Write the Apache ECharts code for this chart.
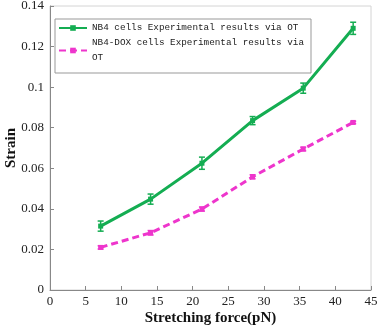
<!DOCTYPE html>
<html>
<head>
<meta charset="utf-8">
<script src="https://cdn.jsdelivr.net/npm/echarts@6/dist/echarts.min.js"></script>
<style>
  html, body { margin: 0; padding: 0; background: #fff; }
  #main { width: 378px; height: 327px; }
</style>
</head>
<body>
<div id="main"></div>
<script>
// stretching force (pN)
var forces = [7.1, 14.1, 21.3, 28.4, 35.5, 42.5];
// strain values
var nb4Strain = [0.0315, 0.0448, 0.0625, 0.0835, 0.0995, 0.129];
var nb4Err = [0.0025, 0.0025, 0.003, 0.002, 0.0025, 0.003];
var doxStrain = [0.021, 0.0282, 0.0399, 0.0558, 0.0695, 0.0826];
var doxErr = [0.0008, 0.0011, 0.001, 0.001, 0.0009, 0.0006];

var nb4Name = 'NB4 cells Experimental results via OT';
var doxName = 'NB4-DOX cells Experimental results via OT';
var green = '#14ad52';
var pink = '#ee35cc';

function pairs(xs, ys) {
    return xs.map(function (x, i) { return [x, ys[i]]; });
}
function triples(xs, ys, es) {
    return xs.map(function (x, i) { return [x, ys[i], es[i]]; });
}

function errorBar(color) {
    return function (params, api) {
        var x = api.value(0), y = api.value(1), e = api.value(2);
        var hi = api.coord([x, y + e]);
        var lo = api.coord([x, y - e]);
        var w = 3;
        var st = { stroke: color, lineWidth: 1.5 };
        return {
            type: 'group',
            children: [
                { type: 'line', shape: { x1: hi[0], y1: hi[1], x2: lo[0], y2: lo[1] }, style: st },
                { type: 'line', shape: { x1: hi[0] - w, y1: hi[1], x2: hi[0] + w, y2: hi[1] }, style: st },
                { type: 'line', shape: { x1: lo[0] - w, y1: lo[1], x2: lo[0] + w, y2: lo[1] }, style: st }
            ]
        };
    };
}

var chart = echarts.init(document.getElementById('main'));
chart.setOption({
    animation: false,
    backgroundColor: '#fff',
    grid: {
        left: 50, right: 7, top: 6, bottom: 37,
        outerBoundsMode: 'none',
        containLabel: false,
        show: true, borderColor: '#d4d4d4', borderWidth: 1
    },
    legend: {
        orient: 'vertical',
        left: 55, top: 19,
        padding: [1, 1, 0, 3],
        itemGap: -8,
        itemWidth: 28,
        itemHeight: 7,
        borderColor: '#999',
        borderWidth: 1,
        backgroundColor: '#fff',
        textStyle: { fontFamily: 'Liberation Mono', fontSize: 9.3, color: '#222', lineHeight: 16 },
        data: [
            { name: nb4Name },
            { name: doxName, textStyle: { width: 218, overflow: 'break', lineHeight: 15, padding: [15, 0, 0, 0] } }
        ]
    },
    xAxis: {
        type: 'value',
        min: 0, max: 45, interval: 5,
        name: 'Stretching force(pN)',
        nameLocation: 'middle',
        nameGap: 21,
        nameMoveOverlap: false,
        nameTextStyle: { fontFamily: 'Liberation Serif', fontWeight: 'bold', fontSize: 15, color: '#111' },
        axisLine: { lineStyle: { color: '#888' } },
        axisTick: { inside: true, length: 4, lineStyle: { color: '#888' } },
        axisLabel: { fontFamily: 'Liberation Serif', fontSize: 13, color: '#222', margin: 5 },
        splitLine: { show: false }
    },
    yAxis: {
        type: 'value',
        min: 0, max: 0.14, interval: 0.02,
        name: 'Strain',
        nameLocation: 'middle',
        nameRotate: 90,
        nameGap: 31,
        nameMoveOverlap: false,
        nameTextStyle: { fontFamily: 'Liberation Serif', fontWeight: 'bold', fontSize: 15, color: '#111' },
        axisLine: { show: true, lineStyle: { color: '#888' } },
        axisTick: { show: true, inside: true, length: 4, lineStyle: { color: '#888' } },
        axisLabel: { fontFamily: 'Liberation Serif', fontSize: 13, color: '#222', margin: 6 },
        splitLine: { show: false }
    },
    series: [
        {
            name: nb4Name,
            type: 'line',
            data: pairs(forces, nb4Strain),
            symbol: 'rect',
            symbolSize: 5,
            color: green,
            lineStyle: { width: 3, color: green },
            itemStyle: { color: green }
        },
        {
            name: doxName,
            type: 'line',
            data: pairs(forces, doxStrain),
            symbol: 'rect',
            symbolSize: 5,
            color: pink,
            lineStyle: { width: 3, color: pink, type: [7, 4] },
            itemStyle: { color: pink }
        },
        {
            name: 'nb4-err',
            type: 'custom',
            data: triples(forces, nb4Strain, nb4Err),
            renderItem: errorBar(green),
            z: 3
        },
        {
            name: 'dox-err',
            type: 'custom',
            data: triples(forces, doxStrain, doxErr),
            renderItem: errorBar(pink),
            z: 3
        }
    ]
});
</script>
</body>
</html>
